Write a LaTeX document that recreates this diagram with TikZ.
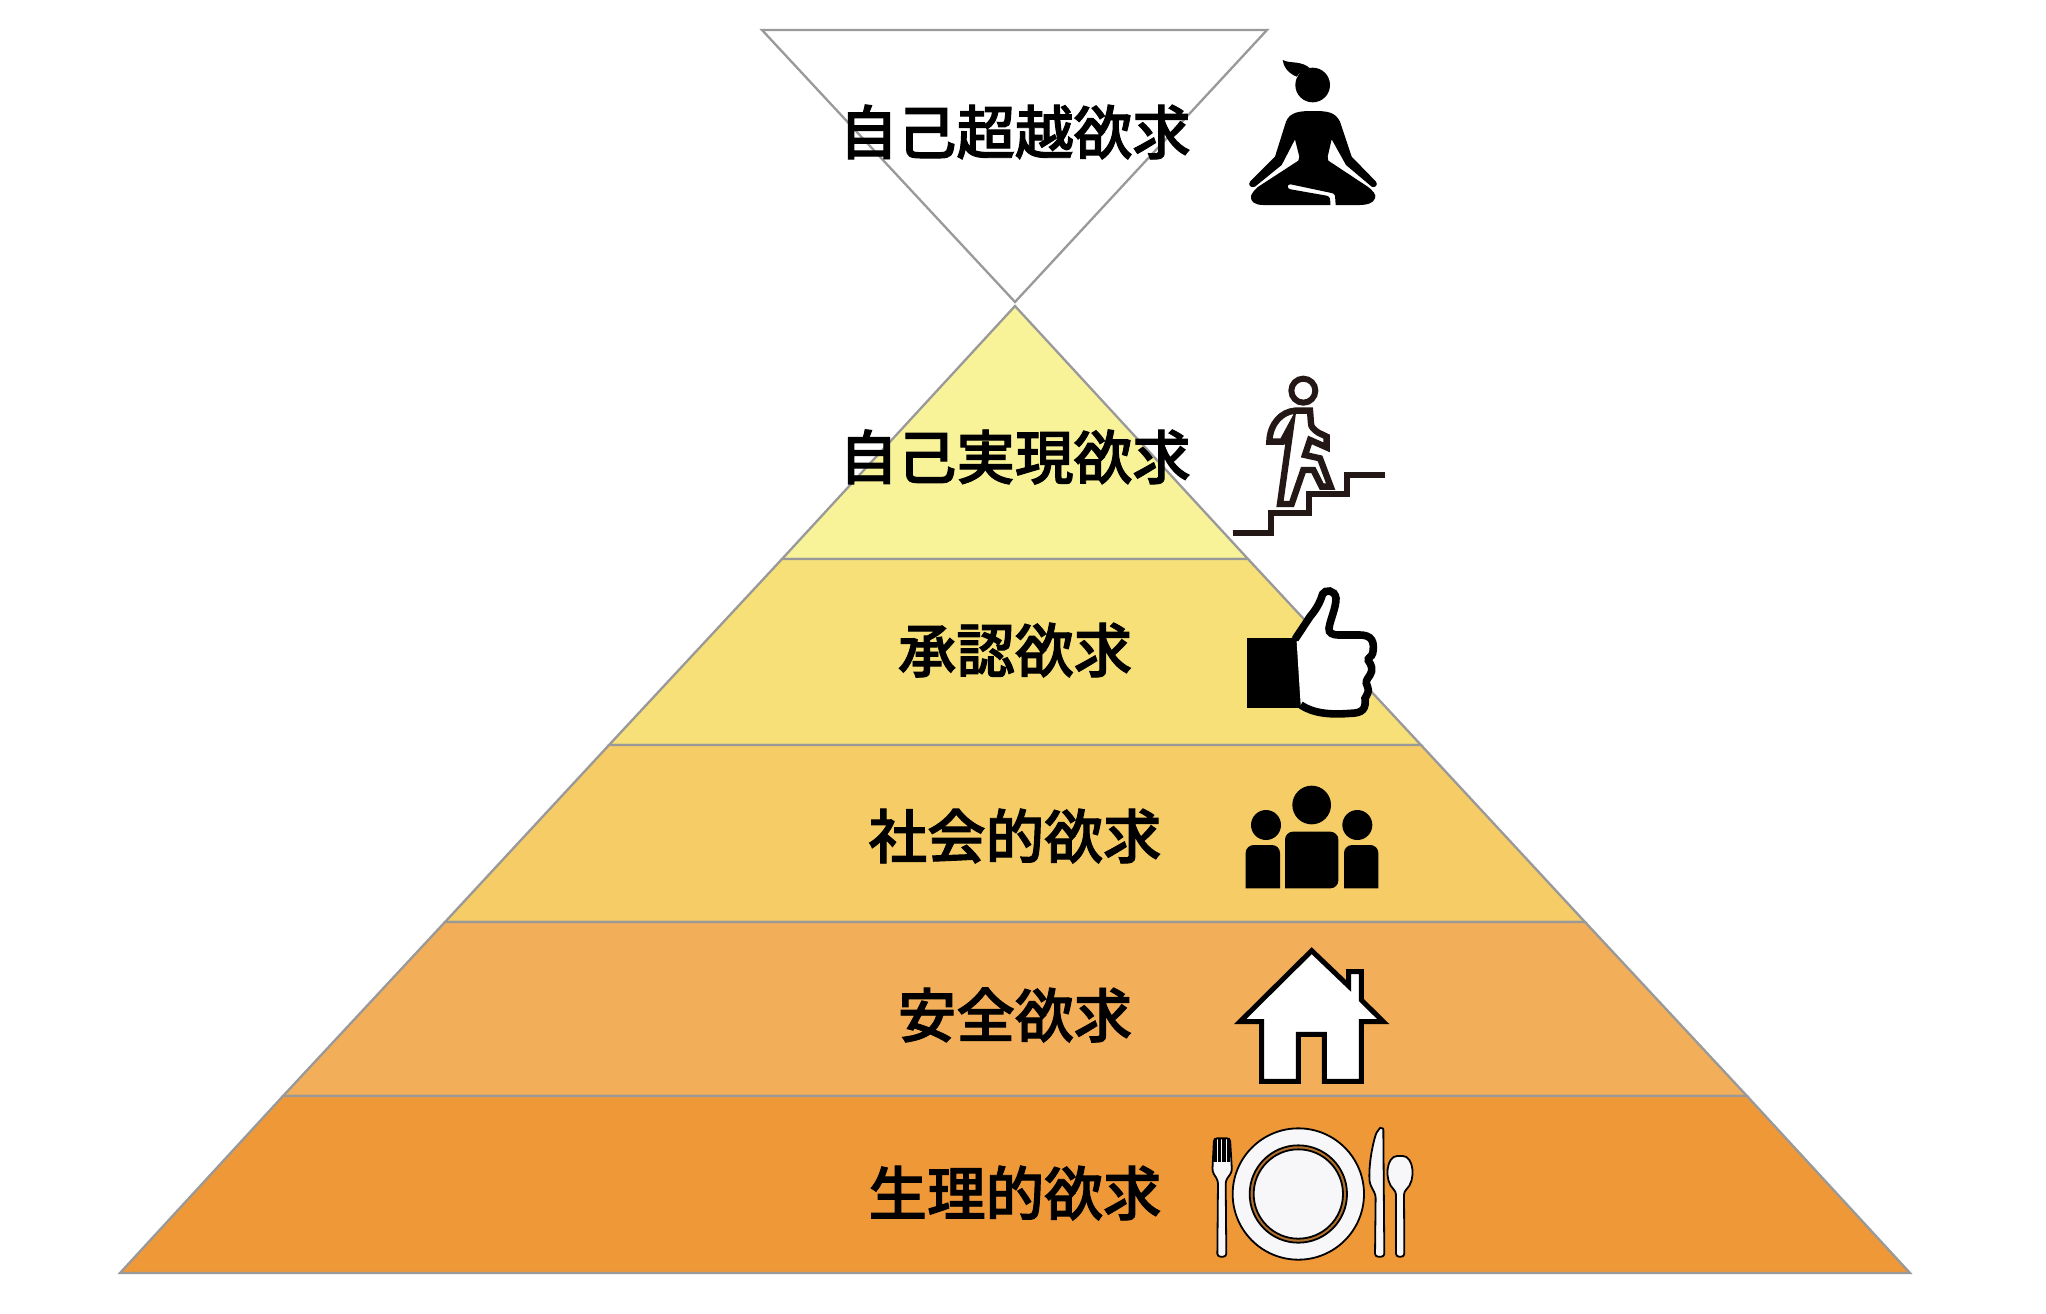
\documentclass[tikz,border=0pt]{standalone}
\usepackage{fontspec}
\newfontfamily\cjk{Noto Sans CJK JP Medium}[FakeBold=1.6]
\definecolor{tierA}{HTML}{F8F299}
\definecolor{tierB}{HTML}{F7E078}
\definecolor{tierC}{HTML}{F5CC66}
\definecolor{tierD}{HTML}{F2AE58}
\definecolor{tierE}{HTML}{EF9838}
\definecolor{edgegray}{HTML}{999999}
\definecolor{inkdark}{HTML}{231815}
\definecolor{platewhite}{HTML}{F7F7F9}
\tikzset{
  tier/.style={draw=edgegray,line width=1.15pt},
  need/.style={font=\cjk\fontsize{29.3}{34}\selectfont,inner sep=0pt},
  iconline/.style={draw=black,line width=#1},
  cutlery/.style={draw=black,fill=platewhite,line width=0.9pt,line join=round}
}
\begin{document}
\begin{tikzpicture}[x=0.5pt,y=-0.5pt]
  \useasboundingbox (0,0) rectangle (2046,1313);
  % corners of the two triangles
  \coordinate (topl) at (762,30);
  \coordinate (topr) at (1267,30);
  \coordinate (topp) at (1015,302);
  \coordinate (apex) at (1015,306);
  \coordinate (al) at (782,559);
  \coordinate (ar) at (1248,559);
  \coordinate (bl) at (609,745);
  \coordinate (br) at (1421,745);
  \coordinate (cl) at (445,922);
  \coordinate (cr) at (1585,922);
  \coordinate (dl) at (283,1096);
  \coordinate (dr) at (1747,1096);
  \coordinate (el) at (120,1273);
  \coordinate (er) at (1910,1273);
  \draw[tier,fill=white] (topl)--(topr)--(topp)--cycle;
  \draw[tier,fill=tierA] (apex)--(ar)--(al)--cycle;
  \draw[tier,fill=tierB] (al)--(ar)--(br)--(bl)--cycle;
  \draw[tier,fill=tierC] (bl)--(br)--(cr)--(cl)--cycle;
  \draw[tier,fill=tierD] (cl)--(cr)--(dr)--(dl)--cycle;
  \draw[tier,fill=tierE] (dl)--(dr)--(er)--(el)--cycle;
  % labels
  \node[need] (beyond) at (1015,132) {自己超越欲求};
  \node[need] (actual) at (1015,457) {自己実現欲求};
  \node[need] (esteem) at (1015,650) {承認欲求};
  \node[need] (social) at (1015,836) {社会的欲求};
  \node[need] (safety) at (1015,1015) {安全欲求};
  \node[need] (body) at (1015,1193) {生理的欲求};
  % seated figure
  \begin{scope}[shift={(1200,30)},scale=1/3]
    \fill (338,165) circle (52);
    \fill (248,90) .. controls (270,102) and (305,90) .. (332,117) .. controls (310,122) and (295,130) .. (290,140) .. controls (265,130) and (250,110) .. (248,90) -- cycle;
    \fill (340,243) .. controls (380,243) and (405,245) .. (420,275) -- (455,380) -- (528,455) .. controls (535,465) and (525,475) .. (515,470) -- (438,405) -- (395,328) -- (383,380) -- (385,392) -- (500,468) .. controls (520,482) and (530,495) .. (525,505) .. controls (520,520) and (500,525) .. (480,525) -- (407,525) -- (405,497) .. controls (404,490) and (398,490) .. (390,488) -- (272,463) .. controls (260,462) and (260,476) .. (272,478) -- (380,497) .. controls (390,500) and (391,505) .. (391,525) -- (190,525) .. controls (165,525) and (150,515) .. (153,498) .. controls (155,490) and (165,478) .. (175,470) -- (295,392) -- (298,380) -- (285,328) -- (245,405) -- (165,470) .. controls (152,475) and (143,465) .. (150,455) -- (225,380) -- (258,275) .. controls (270,245) and (300,243) .. (340,243) -- cycle;
  \end{scope}
  % figure on the stairs
  \begin{scope}[shift={(1210,360)},scale=1/3]
    \draw[inkdark,line width=3pt] (280,92) circle (36);
    \draw[inkdark,line width=3pt,line join=miter] (68,518) -- (183,518) -- (183,460) -- (298,460) -- (298,403) -- (412,403) -- (412,346) -- (525,346);
    \draw[inkdark,line width=3.2pt,line join=miter] (300,152) -- (255,152) .. controls (215,155) and (180,190) .. (178,245) -- (217,245) -- (243,197) -- (210,432) -- (245,432) -- (280,330) -- (310,330) -- (335,380) -- (362,380) -- (330,295) -- (285,285) -- (300,240) -- (350,262) -- (350,230) -- (325,218) .. controls (310,208) and (303,200) .. (303,190) -- cycle;
  \end{scope}
  % thumb up
  \begin{scope}[shift={(1230,570)},scale=1/3]
    \fill (52,205) rectangle (212,415);
    \fill[white] (200,215) -- (240,140) .. controls (265,110) and (272,90) .. (278,72) .. controls (285,58) and (315,58) .. (318,85) .. controls (318,115) and (300,150) .. (297,175) .. controls (295,190) and (310,195) .. (325,195) -- (390,195) .. controls (425,195) and (435,215) .. (428,250) .. controls (425,262) and (412,262) .. (415,272) .. controls (425,285) and (430,300) .. (420,315) .. controls (410,330) and (405,335) .. (412,348) .. controls (420,365) and (410,375) .. (405,385) .. controls (408,415) and (400,430) .. (360,430) .. controls (300,435) and (250,430) .. (212,405) -- cycle;
    \draw[iconline=3.8pt] (195,208) -- (240,140) .. controls (265,110) and (272,90) .. (278,72) .. controls (285,58) and (315,58) .. (318,85) .. controls (318,115) and (300,150) .. (297,175) .. controls (295,190) and (310,195) .. (325,195) -- (390,195) .. controls (425,195) and (435,215) .. (428,250) .. controls (425,262) and (412,262) .. (415,272) .. controls (425,285) and (430,300) .. (420,315) .. controls (410,330) and (405,335) .. (412,348) .. controls (420,365) and (410,375) .. (405,385) .. controls (408,415) and (400,430) .. (360,430) .. controls (300,435) and (250,430) .. (212,405);
  \end{scope}
  % three people
  \begin{scope}[shift={(1230,770)},scale=1/3]
    \fill (245,105) circle (58);
    \fill (108,165) circle (45);
    \fill (382,165) circle (45);
    \fill[rounded corners=4pt] (165,355) -- (165,185) -- (325,185) -- (325,355) [sharp corners] -- cycle;
    \fill[rounded corners=4pt] (47,355) -- (47,225) -- (150,225) [sharp corners] -- (150,355) -- cycle;
    \fill[rounded corners=4pt] (445,355) -- (445,225) -- (342,225) [sharp corners] -- (342,355) -- cycle;
  \end{scope}
  % house
  \begin{scope}[shift={(1220,940)},scale=1/3]
    \draw[iconline=2.5pt,fill=white,line join=miter] (275,32) -- (60,245) -- (125,245) -- (125,424) -- (235,424) -- (235,283) -- (313,283) -- (313,424) -- (424,424) -- (424,245) -- (490,245) -- (424,180) -- (424,95) -- (386,95) -- (386,138) -- cycle;
  \end{scope}
  % plate and cutlery
  \begin{scope}[shift={(1200,1120)},scale=1/3]
    \draw[cutlery] (295,222) circle (197);
    \draw[cutlery,fill=tierE!70!inkdark] (295,222) circle (146);
    \draw[cutlery] (295,222) circle (134);
    \draw[cutlery,rounded corners=1.5pt] (52,410) -- (54,182) -- (37,155) -- (42,55) -- (90,55) -- (96,155) -- (77,182) -- (79,410) -- cycle;
    \foreach \tine in {46,59,72,85}
      \draw[black,line width=1.6pt] (\tine,55) -- (\tine,125);
    \draw[cutlery,rounded corners=1.5pt] (525,410) -- (527,225) -- (509,190) .. controls (505,120) and (525,45) .. (535,30) .. controls (540,24) and (550,25) .. (550,35) -- (553,410) -- cycle;
    \draw[cutlery,rounded corners=1.5pt] (588,410) -- (588,215) .. controls (550,180) and (560,108) .. (600,108) .. controls (640,108) and (650,180) .. (612,215) -- (613,410) -- cycle;
  \end{scope}
\end{tikzpicture}
\end{document}
